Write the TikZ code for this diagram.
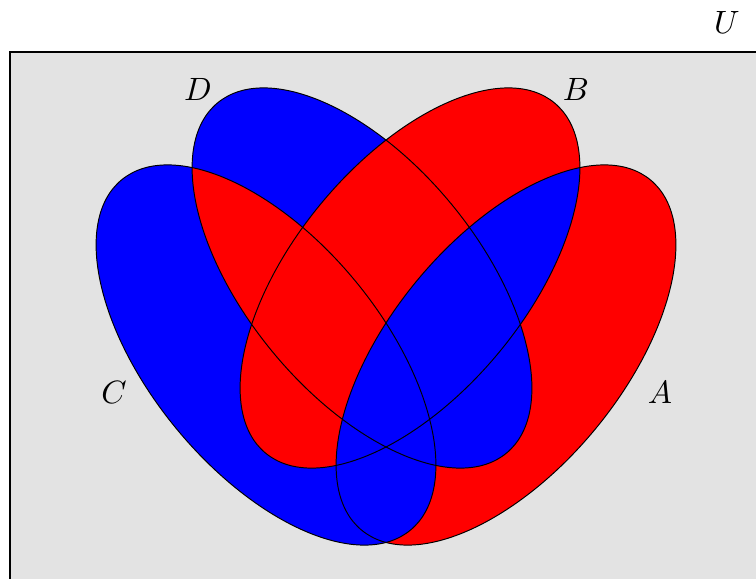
\documentclass[tikz,border=0pt]{standalone}
\begin{document}
\begin{tikzpicture}[x=0.31pt,y=0.31pt,
  outline/.style={draw=black,line width=0.3pt},
  lbl/.style={inner sep=0pt,font=\normalsize}]
\def\EA{(506,223) ellipse [x radius=227, y radius=116, rotate=50.5]}
\def\EB{(410,300) ellipse [x radius=227, y radius=116, rotate=50.5]}
\def\EC{(266,223) ellipse [x radius=227, y radius=116, rotate=-50.5]}
\def\ED{(362,300) ellipse [x radius=227, y radius=116, rotate=-50.5]}
\clip (0,0) rectangle (756,578);
% universe
\fill[black!11] (10,526) rectangle (790,-30);
\draw[line width=0.4pt] (10,526) rectangle (790,-30);
% regions
\fill[blue] \EC;
\fill[blue] \ED;
\fill[red] \EB;
\begin{scope}
  \clip \EC;
  \fill[red] \ED;
\end{scope}
\begin{scope}
  \clip \EA;
  \fill[red] \EA;
  \fill[blue] \EB;
  \fill[blue] \EC;
  \fill[blue] \ED;
\end{scope}
% outlines
\draw[outline] \EA;
\draw[outline] \EB;
\draw[outline] \EC;
\draw[outline] \ED;
% labels
\node[lbl] (lU) at (727,556) {$U$};
\node[lbl] (lD) at (198,489) {$D$};
\node[lbl] (lB) at (576,489) {$B$};
\node[lbl] (lC) at (114,186) {$C$};
\node[lbl] (lA) at (660,186) {$A$};
\end{tikzpicture}
\end{document}
